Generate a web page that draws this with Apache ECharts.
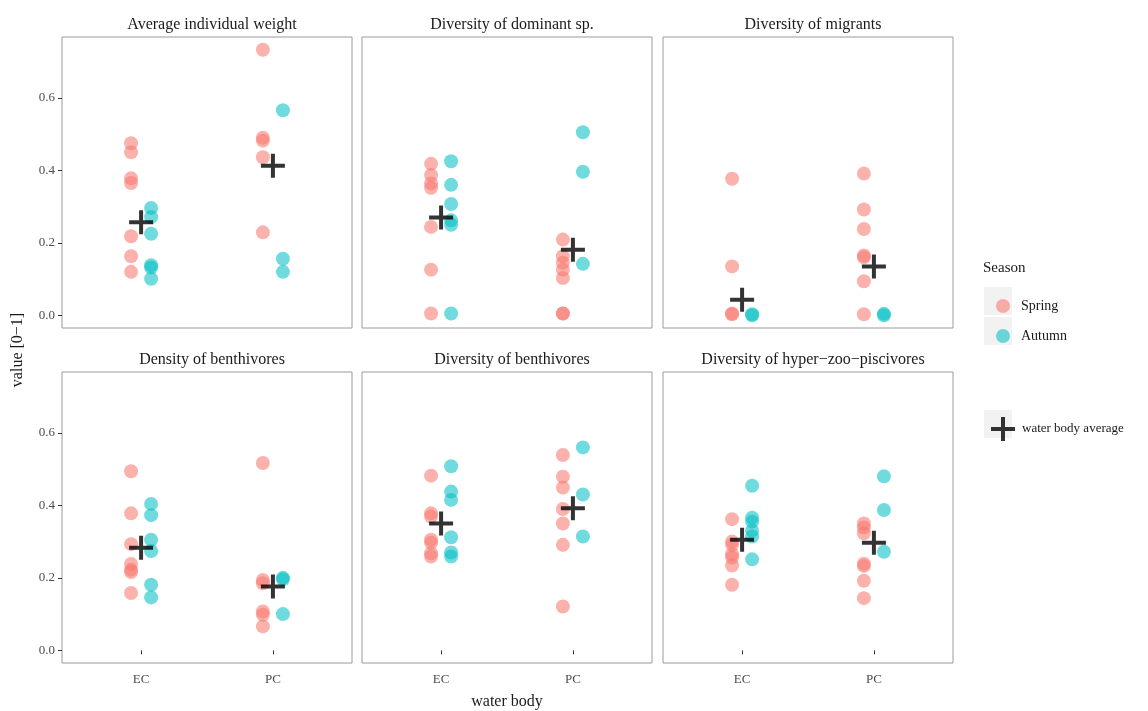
<!DOCTYPE html>
<html>
<head>
<meta charset="utf-8">
<script src="https://cdn.jsdelivr.net/npm/echarts@6/dist/echarts.min.js"></script>
<style>
html, body { margin: 0; padding: 0; background: #fff; }
#main { width: 1148px; height: 711px; }
</style>
</head>
<body>
<div id="main"></div>
<script>
// facets, categories and ticks
var panelTitles = ['Average individual weight', 'Diversity of dominant sp.', 'Diversity of migrants',
                   'Density of benthivores', 'Diversity of benthivores', 'Diversity of hyper\u2212zoo\u2212piscivores'];
var waterBodies = ['EC', 'PC'];
var yTicks = [0, 0.2, 0.4, 0.6];

// values, [EC values, PC values] per panel
var springValues = [
    [[0.475, 0.45, 0.378, 0.365, 0.218, 0.163, 0.12], [0.733, 0.49, 0.482, 0.436, 0.229]],
    [[0.418, 0.387, 0.364, 0.352, 0.244, 0.126, 0.005], [0.209, 0.163, 0.145, 0.126, 0.103, 0.005, 0.005]],
    [[0.377, 0.135, 0.005, 0.003], [0.391, 0.292, 0.238, 0.165, 0.16, 0.094, 0.003]],
    [[0.494, 0.378, 0.293, 0.238, 0.222, 0.216, 0.158], [0.517, 0.194, 0.185, 0.107, 0.098, 0.066]],
    [[0.482, 0.378, 0.369, 0.305, 0.297, 0.268, 0.259], [0.539, 0.479, 0.449, 0.39, 0.35, 0.291, 0.121]],
    [[0.362, 0.3, 0.291, 0.265, 0.256, 0.234, 0.181], [0.35, 0.339, 0.323, 0.239, 0.233, 0.192, 0.144]]
];
var autumnValues = [
    [[0.296, 0.271, 0.225, 0.138, 0.132, 0.101], [0.566, 0.156, 0.12]],
    [[0.425, 0.36, 0.307, 0.262, 0.25, 0.005], [0.505, 0.396, 0.142]],
    [[0.003, 0.0], [0.004, 0.0]],
    [[0.404, 0.373, 0.305, 0.274, 0.181, 0.146], [0.2, 0.196, 0.1]],
    [[0.508, 0.438, 0.415, 0.312, 0.27, 0.259], [0.56, 0.43, 0.314]],
    [[0.454, 0.366, 0.355, 0.33, 0.314, 0.251], [0.48, 0.387, 0.272]]
];
var averageValues = [
    [0.257, 0.413],
    [0.27, 0.181],
    [0.043, 0.135],
    [0.283, 0.176],
    [0.35, 0.392],
    [0.305, 0.297]
];

var DODGE = 0.076;
var SPRING = 'rgba(248,118,109,0.7)';
var AUTUMN = 'rgba(0,191,196,0.7)';
var PLUS = 'path://M10,0H14V10H24V14H14V24H10V14H0V10H10Z';
var FONT = 'Liberation Serif';

var panelLeft = [62, 362, 663];
var panelTop = [37, 372];
var panelW = 290, panelH = 291;

function pointsFor(values, shift) {
    var out = [];
    values.forEach(function (group, ci) {
        group.forEach(function (v) { out.push([ci + 1 + shift, v]); });
    });
    return out;
}

var grid = [], xAxis = [], yAxis = [], series = [], title = [];
for (var i = 0; i < 6; i++) {
    var row = Math.floor(i / 3), col = i % 3;
    grid.push({
        left: panelLeft[col], top: panelTop[row], width: panelW, height: panelH,
        outerBoundsMode: 'none',
        show: true, borderColor: '#9a9a9a', borderWidth: 1, backgroundColor: '#fff'
    });
    title.push({
        text: panelTitles[i],
        left: panelLeft[col] + panelW / 2, top: panelTop[row] - 25,
        textAlign: 'center',
        textStyle: { fontFamily: FONT, fontSize: 16, fontWeight: 'normal', color: '#1a1a1a' }
    });
    xAxis.push({
        type: 'value', gridIndex: i, min: 0.4, max: 2.6,
        splitLine: { show: false },
        axisLine: { show: false },
        axisTick: { show: row === 1, customValues: [1, 2], length: 4, lineStyle: { color: '#333' } },
        axisLabel: {
            show: row === 1, customValues: [1, 2], margin: 10,
            fontFamily: FONT, fontSize: 13, color: '#4d4d4d',
            formatter: function (v) { return waterBodies[Math.round(v) - 1]; }
        },
        name: i === 4 ? 'water body' : '',
        nameLocation: 'middle', nameGap: 31,
        nameTextStyle: { fontFamily: FONT, fontSize: 16, color: '#1a1a1a' }
    });
    yAxis.push({
        type: 'value', gridIndex: i, min: -0.035, max: 0.768,
        splitLine: { show: false },
        axisLine: { show: false },
        axisTick: { show: col === 0, customValues: yTicks, length: 4, lineStyle: { color: '#333' } },
        axisLabel: {
            show: col === 0, customValues: yTicks, margin: 7,
            fontFamily: FONT, fontSize: 13, color: '#4d4d4d',
            formatter: function (v) { return v.toFixed(1); }
        }
    });
    series.push({
        name: 'Spring', type: 'scatter', xAxisIndex: i, yAxisIndex: i,
        symbolSize: 14, itemStyle: { color: SPRING }, z: 2,
        data: pointsFor(springValues[i], -DODGE)
    });
    series.push({
        name: 'Autumn', type: 'scatter', xAxisIndex: i, yAxisIndex: i,
        symbolSize: 14, itemStyle: { color: AUTUMN }, z: 2,
        data: pointsFor(autumnValues[i], DODGE)
    });
    series.push({
        name: 'water body average', type: 'scatter', xAxisIndex: i, yAxisIndex: i,
        symbol: PLUS, symbolSize: 24, itemStyle: { color: '#000' }, z: 3,
        data: averageValues[i].map(function (v, ci) { return [ci + 1, v]; })
    });
}

var option = {
    backgroundColor: '#fff',
    animation: false,
    title: title,
    grid: grid,
    xAxis: xAxis,
    yAxis: yAxis,
    legend: [
        {
            data: ['Spring', 'Autumn'],
            orient: 'vertical', left: 991, top: 294,
            icon: 'circle', itemWidth: 14, itemHeight: 14, itemGap: 16,
            selectedMode: false,
            textStyle: { fontFamily: FONT, fontSize: 14, color: '#1a1a1a', padding: [0, 0, 0, 6] }
        },
        {
            data: ['water body average'],
            orient: 'vertical', left: 986, top: 412,
            icon: PLUS, itemWidth: 24, itemHeight: 24,
            selectedMode: false,
            textStyle: { fontFamily: FONT, fontSize: 13, color: '#1a1a1a', padding: [0, 0, 0, 2] }
        }
    ],
    graphic: [
        { type: 'rect', shape: { x: 984, y: 287, width: 28, height: 28 }, style: { fill: '#f2f2f2' }, z: 0 },
        { type: 'rect', shape: { x: 984, y: 317, width: 28, height: 28 }, style: { fill: '#f2f2f2' }, z: 0 },
        { type: 'rect', shape: { x: 984, y: 410, width: 28, height: 28 }, style: { fill: '#f2f2f2' }, z: 0 },
        { type: 'text', left: 983, top: 261, style: { text: 'Season', font: '15px "Liberation Serif"', fill: '#1a1a1a' } },
        { type: 'text', x: 18, y: 350, rotation: Math.PI / 2, style: { text: 'value [0\u22121]', font: '16px "Liberation Serif"', fill: '#1a1a1a', align: 'center', verticalAlign: 'middle' } }
    ],
    series: series
};

var chart = echarts.init(document.getElementById('main'));
chart.setOption(option);
</script>
</body>
</html>
